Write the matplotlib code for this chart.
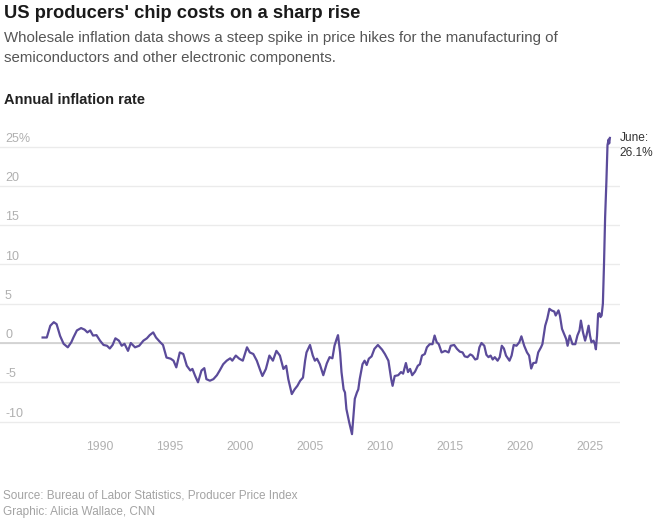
import matplotlib
matplotlib.use('Agg')
import matplotlib.pyplot as plt
import matplotlib.transforms as mtransforms

plt.rcParams['font.family'] = ['Liberation Sans', 'DejaVu Sans']

# dados (ano decimal, inflação anual em %)
anos = [1985.9, 1986.2, 1986.45, 1986.7, 1986.9, 1987.15, 1987.4, 1987.7, 1987.95,
        1988.1, 1988.35, 1988.65, 1988.9, 1989.1, 1989.3, 1989.5, 1989.75, 1990.0,
        1990.25, 1990.5, 1990.7, 1990.9, 1991.1, 1991.35, 1991.55, 1991.75, 1992.0,
        1992.2, 1992.5, 1992.8, 1993.1, 1993.35, 1993.55, 1993.8, 1994.0, 1994.3,
        1994.5, 1994.75, 1995.05, 1995.25, 1995.45, 1995.7, 1995.95, 1996.2, 1996.45,
        1996.6, 1996.8, 1997.0, 1997.25, 1997.45, 1997.6, 1997.85, 1998.1, 1998.35,
        1998.55, 1998.8, 1999.05, 1999.3, 1999.45, 1999.7, 1999.95, 2000.2, 2000.5,
        2000.7, 2000.95, 2001.2, 2001.45, 2001.6, 2001.85, 2002.1, 2002.35, 2002.6,
        2002.85, 2003.1, 2003.3, 2003.45, 2003.7, 2003.9, 2004.1, 2004.3, 2004.5,
        2004.65, 2004.75, 2005.0, 2005.2, 2005.35, 2005.5, 2005.7, 2005.95, 2006.2,
        2006.4, 2006.6, 2006.75, 2006.9, 2007.0, 2007.15, 2007.25, 2007.4, 2007.5,
        2007.6, 2007.8, 2008.0, 2008.1, 2008.2, 2008.35, 2008.45, 2008.55, 2008.75,
        2008.9, 2009.05, 2009.2, 2009.4, 2009.6, 2009.85, 2010.0, 2010.15, 2010.35,
        2010.6, 2010.8, 2010.9, 2011.05, 2011.3, 2011.5, 2011.65, 2011.85, 2012.0,
        2012.15, 2012.3, 2012.5, 2012.7, 2012.85, 2013.0, 2013.2, 2013.35, 2013.55,
        2013.75, 2013.9, 2014.05, 2014.2, 2014.4, 2014.65, 2014.9, 2015.05, 2015.3,
        2015.5, 2015.7, 2015.9, 2016.05, 2016.25, 2016.45, 2016.6, 2016.8, 2016.95,
        2017.1, 2017.25, 2017.45, 2017.6, 2017.75, 2017.9, 2018.05, 2018.2, 2018.4,
        2018.55, 2018.7, 2018.85, 2019.0, 2019.25, 2019.4, 2019.55, 2019.75, 2019.95,
        2020.1, 2020.3, 2020.5, 2020.65, 2020.8, 2020.95, 2021.15, 2021.3, 2021.5,
        2021.6, 2021.8, 2021.95, 2022.1, 2022.25, 2022.45, 2022.55, 2022.75, 2022.85,
        2023.0, 2023.15, 2023.3, 2023.4, 2023.55, 2023.75, 2023.95, 2024.1, 2024.25,
        2024.35, 2024.5, 2024.65, 2024.75, 2024.9, 2025.0, 2025.1, 2025.25, 2025.35,
        2025.42, 2025.5, 2025.58, 2025.67, 2025.75, 2025.83, 2025.92, 2026.0, 2026.08,
        2026.17, 2026.25, 2026.33, 2026.37, 2026.42]
inflacao = [0.7, 0.7, 2.2, 2.65, 2.4, 0.9, -0.1, -0.55, 0.1,
            0.7, 1.6, 1.9, 1.7, 1.35, 1.6, 0.95, 1.0, 0.3,
            -0.25, -0.35, -0.7, -0.25, 0.6, 0.3, -0.35, -0.1, -1.0,
            0.0, -0.55, -0.35, 0.3, 0.6, 1.0, 1.35, 0.7, 0.1,
            -0.25, -1.85, -2.0, -2.25, -3.1, -1.2, -1.4, -2.9, -3.5,
            -3.3, -4.2, -5.0, -3.5, -3.2, -4.6, -4.8, -4.6, -4.1,
            -3.5, -2.7, -2.25, -1.95, -2.25, -1.6, -2.0, -2.25, -0.55,
            -1.2, -1.4, -2.25, -3.5, -4.2, -3.3, -1.6, -2.25, -1.0,
            -1.6, -3.3, -2.9, -4.6, -6.5, -5.9, -5.45, -4.8, -4.4,
            -2.25, -1.2, -0.25, -1.6, -2.25, -2.0, -2.7, -4.1, -2.6,
            -1.8, -1.95, -0.35, 0.5, 1.0, -1.2, -3.7, -5.9, -6.3,
            -8.4, -10.1, -11.6, -9.3, -7.1, -6.3, -5.9, -4.6, -2.7,
            -2.25, -2.8, -2.0, -1.7, -0.75, -0.25, -0.55, -0.85, -1.4,
            -2.25, -4.6, -5.45, -4.2, -4.1, -3.7, -3.9, -2.55, -3.7,
            -3.3, -4.1, -3.65, -2.9, -2.7, -1.6, -1.4, -0.55, -0.15,
            -0.15, 0.95, 0.1, -0.15, -1.2, -1.0, -1.2, -0.35, -0.25,
            -0.75, -1.1, -1.2, -1.7, -1.8, -1.45, -1.6, -2.1, -2.0,
            -0.55, 0.0, -0.35, -1.5, -1.8, -1.6, -2.1, -1.8, -2.25,
            -1.8, -0.35, -0.7, -1.6, -2.25, -1.6, -0.25, -0.35, 0.1,
            0.85, -0.35, -1.2, -1.6, -3.25, -2.55, -2.5, -1.2, -0.55,
            -0.15, 2.2, 3.1, 4.35, 4.15, 4.0, 3.5, 4.15, 3.5,
            1.8, 1.15, 0.5, -0.35, 0.95, -0.15, -0.15, 0.95, 1.6,
            2.85, 1.35, 0.3, 0.95, 2.2, 0.95, 0.1, 0.3, -0.15,
            -0.8, 0.9, 3.7, 3.8, 3.3, 3.5, 5.0, 10.0, 16.0,
            20.5, 25.2, 25.9, 25.4, 26.1]

ticks_y = [-10, -5, 0, 5, 10, 15, 20, 25]
rotulos_y = ['-10', '-5', '0', '5', '10', '15', '20', '25%']
ticks_x = [1990, 1995, 2000, 2005, 2010, 2015, 2020, 2025]
rotulos_x = [str(a) for a in ticks_x]

W, H = 660, 519
fig = plt.figure(figsize=(6.6, 5.19), dpi=100)

# área do gráfico em pixels: x 0..620, y 140..440
ax = fig.add_axes([0, 79 / H, 620 / W, 300 / H])
ax.set_xlim(1990 - 100 / 14, 1990 + 520 / 14)
ax.set_ylim((343 - 440) / 7.857, (343 - 140) / 7.857)

for s in ax.spines.values():
    s.set_visible(False)

ax.set_yticks(ticks_y)
ax.tick_params(axis='y', length=0, labelleft=False)
ax.grid(axis='y', color='#ebebeb', lw=1)
ax.axhline(0, color='#cfcfcf', lw=1.2, zorder=1)
ax.set_axisbelow(True)

ax.set_xticks(ticks_x)
ax.set_xticklabels(rotulos_x, fontsize=8.8, color='#b0b0b0')
ax.tick_params(axis='x', length=0, pad=0.5)

trans = mtransforms.blended_transform_factory(ax.transAxes, ax.transData)
for v, r in zip(ticks_y, rotulos_y):
    ax.text(5 / 620, v + 0.62, r, transform=trans, ha='left', va='baseline',
            fontsize=9, color='#b0b0b0')

ax.plot(anos, inflacao, color='#5b4b9a', lw=1.6, clip_on=False,
        solid_joinstyle='round', zorder=3)

# rótulo do último ponto
ax.annotate('June:', xy=(anos[-1], inflacao[-1]), xytext=(10, 0),
            textcoords='offset pixels', ha='left', va='center',
            fontsize=8.6, color='#333333', annotation_clip=False)
ax.annotate(f'{inflacao[-1]}%', xy=(anos[-1], inflacao[-1]), xytext=(10, -15.5),
            textcoords='offset pixels', ha='left', va='center',
            fontsize=8.6, color='#333333', annotation_clip=False)

# textos
fig.text(4 / W, 1 - 17.5 / H, "US producers' chip costs on a sharp rise",
         fontsize=13.2, fontweight='bold', color='#1a1a1a', va='baseline')
fig.text(4 / W, 1 - 41.7 / H,
         'Wholesale inflation data shows a steep spike in price hikes for the manufacturing of',
         fontsize=10.8, color='#555555', va='baseline')
fig.text(4 / W, 1 - 61.7 / H, 'semiconductors and other electronic components.',
         fontsize=10.8, color='#555555', va='baseline')
fig.text(4 / W, 1 - 104 / H, 'Annual inflation rate',
         fontsize=10.5, fontweight='bold', color='#222222', va='baseline')
fig.text(3 / W, 1 - 495 / H, 'Source: Bureau of Labor Statistics, Producer Price Index',
         fontsize=8.5, color='#a3a3a3', va='center')
fig.text(3 / W, 1 - 512 / H, 'Graphic: Alicia Wallace, CNN',
         fontsize=8.5, color='#a3a3a3', va='center')

fig.savefig('out.png', dpi=100, facecolor='white')
